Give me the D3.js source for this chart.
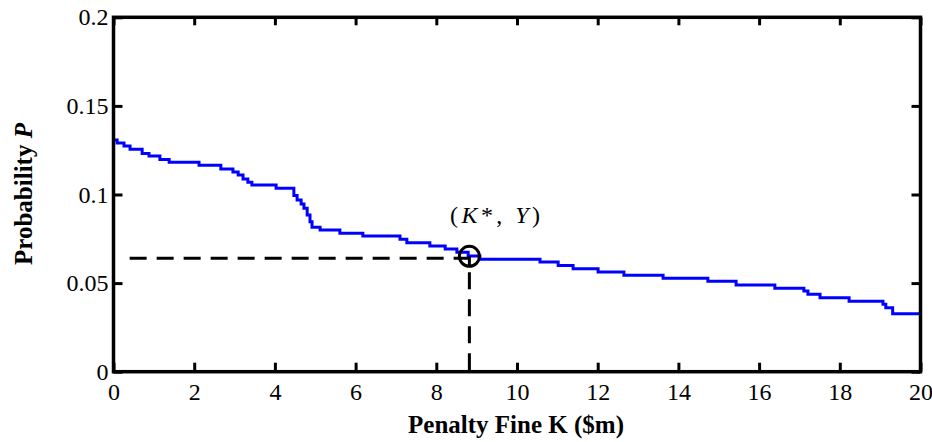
<!DOCTYPE html>
<html>
<head>
<meta charset="utf-8">
<script src="https://cdn.jsdelivr.net/npm/d3@7"></script>
<style>
body { margin: 0; background: #fff; }
text { font-family: "Liberation Serif", "Times New Roman", serif; fill: #000; }
</style>
</head>
<body>
<div id="chart"></div>
<script>
var width = 932,
    height = 442;

// step curve: K where each level starts, and the level P
var fineK = [0, 0.09, 0.26, 0.41, 0.71, 0.88, 1.15, 1.38, 2.12, 2.66, 2.96, 3.09, 3.21, 3.33, 3.43,
             4.03, 4.47, 4.55, 4.65, 4.72, 4.80, 4.87, 4.92, 5.12, 5.61, 6.18, 7.10, 7.27, 7.84,
             8.22, 8.51, 8.79, 9.08, 10.57, 11.02, 11.39, 12.01, 12.65, 13.62, 14.73, 15.43,
             16.39, 17.11, 17.21, 17.51, 18.23, 19.07, 19.14, 19.31, 20];
var probP = [0.1307, 0.1290, 0.1274, 0.1255, 0.1232, 0.1217, 0.1198, 0.1182, 0.1165, 0.1144, 0.1127,
             0.1110, 0.1087, 0.1069, 0.1054, 0.1035, 0.0995, 0.0969, 0.0946, 0.0922, 0.0884, 0.0846,
             0.0815, 0.0800, 0.0781, 0.0766, 0.0747, 0.0728, 0.0709, 0.0692, 0.0674, 0.0653, 0.0634,
             0.0619, 0.0600, 0.0581, 0.0563, 0.0544, 0.0527, 0.0510, 0.0489, 0.0471, 0.0455, 0.0437,
             0.0418, 0.0397, 0.0380, 0.0361, 0.0327, 0.0327];

var xTicks = [0, 2, 4, 6, 8, 10, 12, 14, 16, 18, 20];
var yTicks = [0, 0.05, 0.1, 0.15, 0.2];

// the marked optimum (K*, Y)
var kStar = 8.82,
    yStar = 0.064,
    dashStartK = 0.4;

var plotLeft = 113.5, plotRight = 920.5, plotTop = 17.3, plotBottom = 371.7;

var x = d3.scaleLinear().domain([0, 20]).range([plotLeft, plotRight]);
var y = d3.scaleLinear().domain([0, 0.2]).range([plotBottom, plotTop]);

var svg = d3.select("#chart")
    .append("svg")
    .attr("width", width)
    .attr("height", height);

var data = fineK.map(function(k, i) { return { k: k, p: probP[i] }; });

// dashed guide lines
svg.append("line")
    .attr("x1", x(dashStartK)).attr("x2", x(kStar))
    .attr("y1", y(yStar)).attr("y2", y(yStar))
    .attr("stroke", "#000").attr("stroke-width", 3)
    .attr("stroke-dasharray", "17,10");
svg.append("line")
    .attr("x1", x(kStar)).attr("x2", x(kStar))
    .attr("y1", y(yStar) + 14).attr("y2", y(0))
    .attr("stroke", "#000").attr("stroke-width", 3)
    .attr("stroke-dasharray", "17,10");

// the curve
var line = d3.line()
    .x(function(d) { return x(d.k); })
    .y(function(d) { return y(d.p); })
    .curve(d3.curveStepAfter);

svg.append("path")
    .datum(data)
    .attr("d", line)
    .attr("fill", "none")
    .attr("stroke", "#0000ff")
    .attr("stroke-width", 3);

// marker
svg.append("circle")
    .attr("cx", x(kStar)).attr("cy", y(yStar) - 2)
    .attr("r", 10)
    .attr("fill", "none")
    .attr("stroke", "#000")
    .attr("stroke-width", 3);
svg.append("line")
    .attr("x1", x(kStar)).attr("x2", x(kStar))
    .attr("y1", y(yStar) - 2).attr("y2", y(yStar) + 8)
    .attr("stroke", "#000").attr("stroke-width", 3);

svg.append("text")
    .attr("x", 495)
    .attr("y", 223)
    .attr("text-anchor", "middle")
    .attr("textLength", 90)
    .attr("lengthAdjust", "spacing")
    .style("font-size", "24px")
    .html('(<tspan font-style="italic">K</tspan>*, <tspan font-style="italic">Y</tspan>)');

// axes
function styleAxis(g) {
    g.select(".domain").remove();
    g.selectAll(".tick line").attr("stroke", "#000").attr("stroke-width", 3);
    g.selectAll(".tick text").style("font-size", "24px").attr("fill", "#000");
}

svg.append("g")
    .attr("transform", "translate(0," + plotBottom + ")")
    .call(d3.axisBottom(x).tickValues(xTicks).tickSize(-9).tickPadding(11)
        .tickFormat(d3.format("d")))
    .call(styleAxis);

svg.append("g")
    .attr("transform", "translate(0," + plotTop + ")")
    .call(d3.axisTop(x).tickValues(xTicks).tickSize(-8).tickFormat(""))
    .call(styleAxis);

svg.append("g")
    .attr("transform", "translate(" + plotLeft + ",0)")
    .call(d3.axisLeft(y).tickValues(yTicks).tickSize(-9).tickPadding(5)
        .tickFormat(function(d) { return d === 0 ? "0" : String(+d.toFixed(2)); }))
    .call(styleAxis);

svg.append("g")
    .attr("transform", "translate(" + plotRight + ",0)")
    .call(d3.axisRight(y).tickValues(yTicks).tickSize(-9).tickFormat(""))
    .call(styleAxis);

// frame
svg.append("rect")
    .attr("x", plotLeft).attr("y", plotTop)
    .attr("width", plotRight - plotLeft).attr("height", plotBottom - plotTop)
    .attr("fill", "none")
    .attr("stroke", "#000")
    .attr("stroke-width", 3.5);

// titles
svg.append("text")
    .attr("x", 516)
    .attr("y", 433)
    .attr("text-anchor", "middle")
    .style("font-size", "25px")
    .style("font-weight", "bold")
    .text("Penalty Fine K ($m)");

svg.append("text")
    .attr("transform", "translate(32," + 194 + ") rotate(-90)")
    .attr("text-anchor", "middle")
    .style("font-size", "25px")
    .style("font-weight", "bold")
    .html('Probability <tspan font-style="italic">P</tspan>');
</script>
</body>
</html>
